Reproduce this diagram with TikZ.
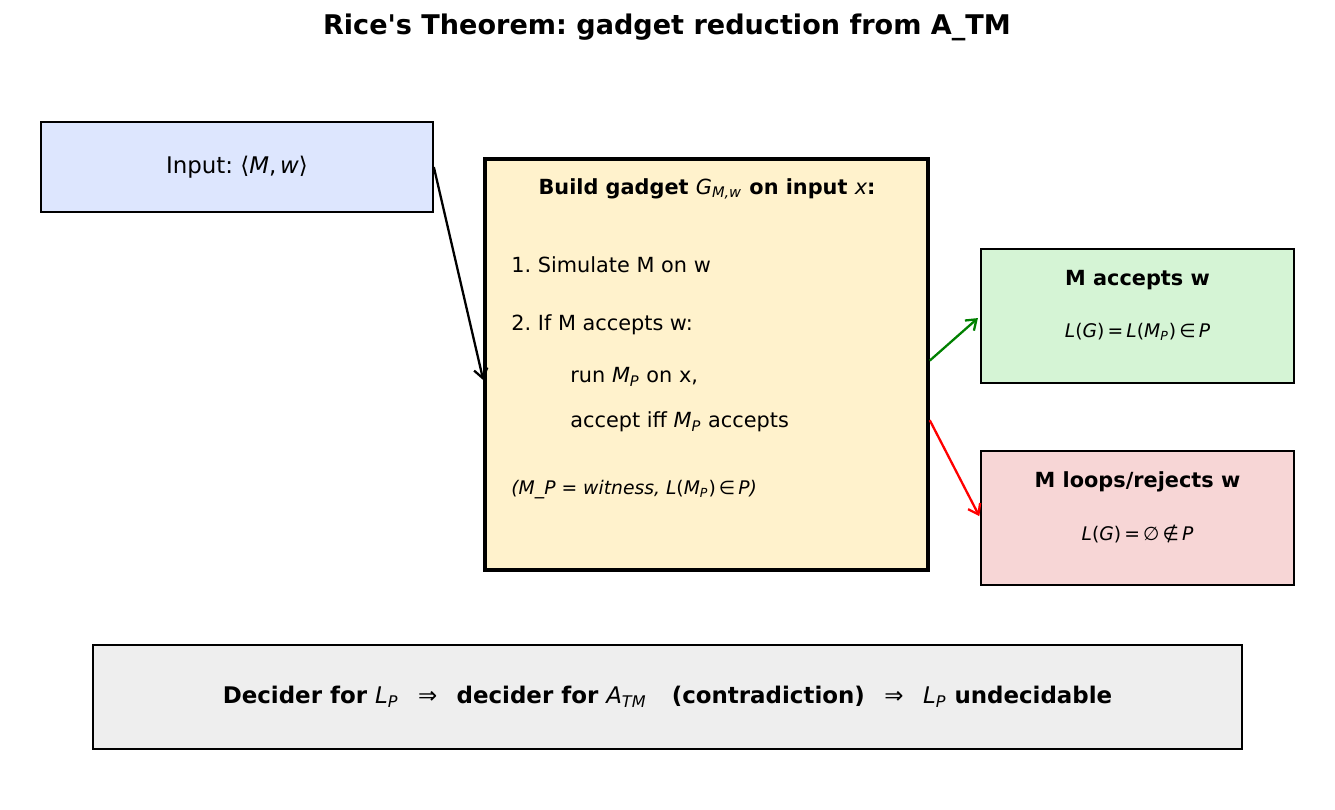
\documentclass[tikz,border=0pt]{standalone}
\usepackage{fontspec}
\setmainfont{DejaVu Sans}
\usepackage{tikz}
\usetikzlibrary{positioning, arrows.meta}
\definecolor{inblue}{RGB}{221,230,254}
\definecolor{gadyellow}{RGB}{255,242,204}
\definecolor{accgreen}{RGB}{213,244,213}
\definecolor{rejred}{RGB}{247,214,214}
\definecolor{sumgray}{RGB}{238,238,238}
\definecolor{arrgreen}{RGB}{0,128,0}
\definecolor{arrred}{RGB}{255,0,0}
\newcommand{\mv}[1]{{\mdseries\itshape #1}}
\newcommand{\lowidx}[1]{\textsubscript{\mdseries\itshape #1}}
\newcommand{\impl}{\hspace{0.85em}{\mdseries ⇒}\hspace{0.85em}}
\frenchspacing
\tikzset{
  box/.style={
    draw=black, line width=0.75pt, inner sep=0pt, align=center
  },
  gadbox/.style={
    box, line width=1.7pt, fill=gadyellow
  },
  txt/.style={inner sep=0pt, font=\fontsize{10}{12}\selectfont},
  head/.style={txt, font=\fontsize{10}{12}\selectfont\bfseries},
  ttl/.style={inner sep=0pt, font=\fontsize{13}{15}\selectfont\bfseries},
  flow/.style={-{Straight Barb[length=4.5pt, width=6.5pt]}, line width=1.1pt}
}

\begin{document}
\begin{tikzpicture}[x=0.48pt, y=-0.48pt, font=\fontsize{10}{12}\selectfont]
  \useasboundingbox (0,0) rectangle (1335,809);
  \node[ttl] (title) at (667,27) {Rice\textquotesingle s Theorem: gadget reduction from A\_TM};

  % input and gadget
  \node[box, fill=inblue, minimum width=188.2pt, minimum height=43.2pt,
        font=\fontsize{11}{13}\selectfont] (in) at (237,167) {Input: ⟨\mv{M},\,\mv{w}⟩};
  \node[gadbox, minimum width=212.6pt, minimum height=197.3pt] (gad) at (706.5,364.5) {};
  \node[head] (gadttl) at (707,189) {Build gadget \mv{G}\lowidx{M,w} on input \mv{x}:};
  \node[txt, anchor=west] (s1) at (511,265) {1. Simulate M on w};
  \node[txt, anchor=west] (s2) at (511,325) {2. If M accepts w:};
  \node[txt, anchor=west] (s3) at (570,377) {run \mv{M}\lowidx{P} on x,};
  \node[txt, anchor=west] (s4) at (570,422) {accept iff \mv{M}\lowidx{P} accepts};
  \node[txt, anchor=west, font=\fontsize{9}{11}\selectfont\itshape] (note) at (511,490)
    {(M\_P = witness, \mv{L}{\upshape(}\mv{M}\lowidx{P}{\upshape)}\,∈\,\mv{P})};

  % outcomes
  \node[box, fill=accgreen, minimum width=150.2pt, minimum height=64.3pt] (acc) at (1137.5,316) {};
  \node[head] (acchd) at (1137.5,280) {M accepts w};
  \node[txt, font=\fontsize{9}{11}\selectfont] (accf) at (1137.5,332)
    {\mv{L}(\mv{G})\,=\,\mv{L}(\mv{M}\lowidx{P})\,∈\,\mv{P}};
  \node[box, fill=rejred, minimum width=150.2pt, minimum height=64.3pt] (rej) at (1137.5,518) {};
  \node[head] (rejhd) at (1137.5,482) {M loops/rejects w};
  \node[txt, font=\fontsize{9}{11}\selectfont] (rejf) at (1137.5,534)
    {\mv{L}(\mv{G})\,=\,∅\,∉\,\mv{P}};

  % conclusion
  \node[box, fill=sumgray, minimum width=551.5pt, minimum height=49.9pt,
        font=\fontsize{11}{13}\selectfont\bfseries] (sum) at (667.5,697)
    {Decider for \mv{L}\lowidx{P}\impl decider for \mv{A}\lowidx{TM}\hspace{1.1em}(contradiction)\impl\mv{L}\lowidx{P} undecidable};

  \draw[flow] (in.east) -- (gad.184);
  \draw[flow, arrgreen, shorten >=1.5pt] (gad.1.4) -- (acc.west);
  \draw[flow, arrred, shorten >=1pt] (gad.-14.4) -- (rej.west);
\end{tikzpicture}
\end{document}
